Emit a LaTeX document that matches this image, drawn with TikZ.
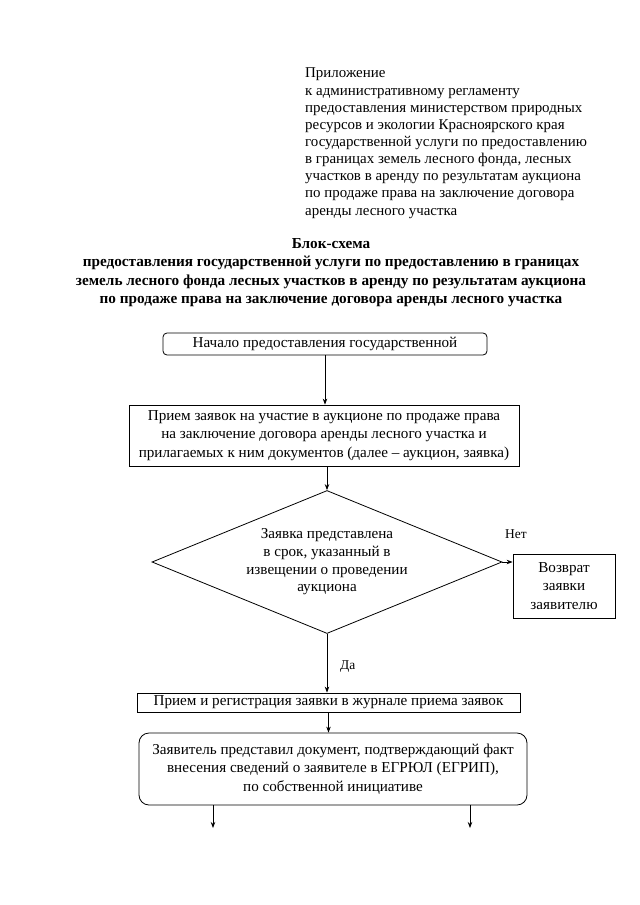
\documentclass[tikz,border=0pt]{standalone}
\usepackage{fontspec}
\setmainfont{Liberation Serif}
\usetikzlibrary{shapes.geometric,arrows.meta}
\begin{document}
\begin{tikzpicture}[x=1bp,y=-1bp,
  every node/.style={inner sep=0pt},
  txt/.style={font=\fontsize{15.2}{18.7}\selectfont, align=center},
  proc/.style={draw, line width=0.8bp, txt},
  rproc/.style={proc, rounded corners=4bp},
  decision/.style={draw, diamond, aspect=2.45, line width=0.8bp, txt, font=\fontsize{15.2}{17.8}\selectfont},
  arr/.style={line width=0.8bp, -{Stealth[length=6bp,width=4.5bp]}},
  lbl/.style={font=\fontsize{13.5}{15}\selectfont}
]
\useasboundingbox[fill=white] (0,0) rectangle (640,905);

\node[anchor=north west, align=left, font=\fontsize{15}{17.2}\selectfont] (hdr) at (305,68)
{Приложение\\
к административному регламенту\\
предоставления министерством природных\\
ресурсов и экологии Красноярского края\\
государственной услуги по предоставлению\\
в границах земель лесного фонда, лесных\\
участков в аренду по результатам аукциона\\
по продаже права на заключение договора\\
аренды лесного участка};

\node[anchor=north, align=center, font=\fontsize{15.3}{18.5}\selectfont\bfseries] (title) at (331,238)
{Блок-схема\\
предоставления государственной услуги по предоставлению в границах\\
земель лесного фонда лесных участков в аренду по результатам аукциона\\
по продаже права на заключение договора аренды лесного участка};

\node[rproc, minimum width=324bp, minimum height=22bp] (start) at (325,344)
{Начало предоставления государственной};

\node[proc, minimum width=390bp, minimum height=61bp] (recv) at (324,435.5)
{Прием заявок на участие в аукционе по продаже права\\
на заключение договора аренды лесного участка и\\
прилагаемых к ним документов (далее – аукцион, заявка)};

\node[decision, minimum width=350bp, minimum height=143bp] (dec) at (327,562)
{Заявка представлена\\
в срок, указанный в\\
извещении о проведении\\
аукциона};

\node[proc, minimum width=102bp, minimum height=64bp] (ret) at (564,586)
{Возврат\\ заявки\\ заявителю};

\node[proc, minimum width=383bp, minimum height=19bp] (reg) at (328.5,702.5)
{Прием и регистрация заявки в журнале приема заявок};

\node[rproc, rounded corners=10bp, minimum width=388bp, minimum height=72bp] (doc) at (333,769)
{Заявитель представил документ, подтверждающий факт\\
внесения сведений о заявителе в ЕГРЮЛ (ЕГРИП),\\
по собственной инициативе};

\coordinate (o1) at (213,828);
\coordinate (o2) at (470,828);

\draw[arr] (start.south) -- (start.south |- recv.north);
\draw[arr] (recv.south -| dec.north) -- (dec.north);
\draw[arr] (dec.east) -- (dec.east -| ret.west);
\node[lbl] (no) at (516,534) {Нет};
\draw[arr] (dec.south) -- (dec.south |- reg.north);
\node[lbl, anchor=west] (yes) at (340,667) {Да};
\draw[arr] (reg.south) -- (reg.south |- doc.north);
\draw[arr] (doc.south -| o1) -- (o1);
\draw[arr] (doc.south -| o2) -- (o2);
\end{tikzpicture}
\end{document}
